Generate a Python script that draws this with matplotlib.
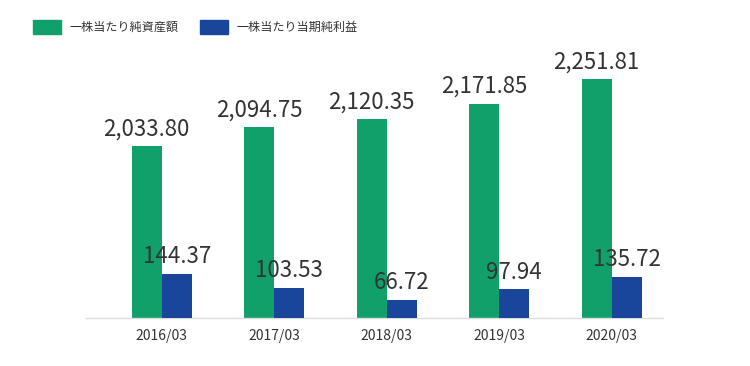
import matplotlib
matplotlib.use("Agg")
import matplotlib.pyplot as plt
import numpy as np
from matplotlib.patches import Patch

plt.rcParams["font.family"] = ["Noto Sans CJK JP", "DejaVu Sans"]

# data
periods = ["2016/03", "2017/03", "2018/03", "2019/03", "2020/03"]
net_assets_per_share = [2033.80, 2094.75, 2120.35, 2171.85, 2251.81]
net_income_per_share = [144.37, 103.53, 66.72, 97.94, 135.72]
series_names = ["一株当たり純資産額", "一株当たり当期純利益"]

GREEN = "#11a06a"
BLUE = "#19459b"
TEXT = "#333333"

fig = plt.figure(figsize=(7.5, 3.66), dpi=100)
ax = fig.add_axes([0.1147, 0.1325, 0.7693, 0.7582])
ax2 = ax.twinx()

x = np.arange(len(periods))
w = 0.267

bars_a = ax.bar(x - w / 2, net_assets_per_share, w, color=GREEN)
bars_b = ax2.bar(x + w / 2, net_income_per_share, w, color=BLUE)

# the two series use separate, non-zero based scales in the original
ax.set_ylim(1472, 2380)
ax2.set_ylim(14, 843)
ax.set_xlim(-0.673, 4.456)

ax.bar_label(bars_a, labels=[f"{v:,.2f}" for v in net_assets_per_share],
             padding=4, fontsize=16, color=TEXT)
ax2.bar_label(bars_b, labels=[f"{v:,.2f}" for v in net_income_per_share],
              padding=4, fontsize=16, color=TEXT)

for a in (ax, ax2):
    for side in ("top", "left", "right", "bottom"):
        a.spines[side].set_visible(False)
    a.set_yticks([])
ax.spines["bottom"].set_visible(True)
ax.spines["bottom"].set_color("#dcdcdc")
ax.spines["bottom"].set_linewidth(1.0)

ax.set_xticks(x, periods)
ax.tick_params(axis="x", length=0, pad=8, labelsize=10, labelcolor=TEXT)

handles = [Patch(color=GREEN), Patch(color=BLUE)]
fig.legend(handles, series_names, loc="center left",
           bbox_to_anchor=(33 / 750, 1 - 27 / 366), ncol=2, frameon=False,
           fontsize=8.7, labelcolor=TEXT, handlelength=2.33, handleheight=1.33,
           handletextpad=0.67, columnspacing=1.8, borderpad=0, borderaxespad=0)

fig.savefig("out.png", dpi=100)
